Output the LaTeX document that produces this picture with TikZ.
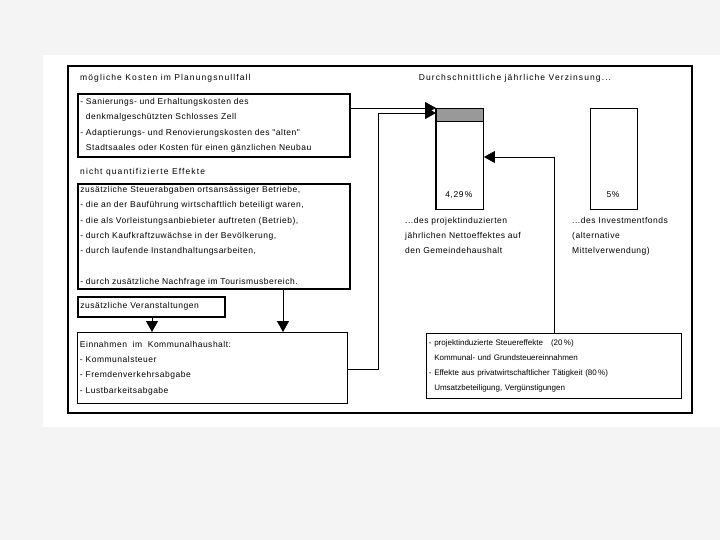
\documentclass[tikz,border=0pt]{standalone}
\usepackage{fontspec}
\setmainfont{Liberation Sans}
\newfontfamily\boxfont[LetterSpace=6]{Liberation Sans}
\newfontfamily\titlefont[LetterSpace=13]{Liberation Sans}
\usetikzlibrary{arrows.meta,positioning}
\definecolor{pagegray}{HTML}{F4F4F4}
\definecolor{bargray}{HTML}{999999}

\begin{document}
\begin{tikzpicture}[x=1pt,y=-1pt,
	every node/.style={font=\boxfont\fontsize{8.5}{15.3}\selectfont},
	box/.style={draw,line width=1.6pt,anchor=north west,align=left,inner xsep=2.5pt,inner ysep=0pt},
	thinbox/.style={box,line width=0.9pt},
	caption/.style={anchor=west,inner sep=0pt},
	heading/.style={caption,font=\titlefont\fontsize{8.5}{10}\selectfont},
	bar/.style={draw,line width=0.9pt,anchor=north west,inner sep=0pt,minimum width=47pt,minimum height=101pt},
	arr/.style={line width=0.9pt,-{Triangle[length=11pt,width=12pt]}}]
	% page and frame
	\fill[pagegray] (0,0) rectangle (720,540);
	\fill[white] (43,55) rectangle (720,427);
	\draw[line width=1.5pt] (68,66) rectangle (692,413);
	% left column
	\node[heading] (kostentitel) at (80,78) {mögliche Kosten im Planungsnullfall};
	\node[box,text width=267pt,minimum height=63pt] (kosten) at (77,93)
		{- Sanierungs- und Erhaltungskosten des\\
		\phantom{- }denkmalgeschützten Schlosses Zell\\
		- Adaptierungs- und Renovierungskosten des "alten"\\
		\phantom{- }Stadtsaales oder Kosten für einen gänzlichen Neubau};
	\node[heading] (effekttitel) at (80,172) {nicht quantifizierte Effekte};
	\node[box,text width=267pt,minimum height=105pt] (effekte) at (77,183)
		{zusätzliche Steuerabgaben ortsansässiger Betriebe,\\
		- die an der Bauführung wirtschaftlich beteiligt waren,\\
		- die als Vorleistungsanbiebieter auftreten (Betrieb),\\
		- durch Kaufkraftzuwächse in der Bevölkerung,\\
		- durch laufende Instandhaltungsarbeiten,\\[15.3pt]
		- durch zusätzliche Nachfrage im Tourismusbereich.};
	\node[box,text width=142pt,minimum height=20pt] (veranst) at (77,296) {zusätzliche Veranstaltungen};
	\node[thinbox,text width=265pt,minimum height=71pt] (einnahmen) at (77,332)
		{Einnahmen\ \ im\ \ Kommunalhaushalt:\\
		- Kommunalsteuer\\
		- Fremdenverkehrsabgabe\\
		- Lustbarkeitsabgabe};
	% right column
	\node[heading,anchor=center] (zinstitel) at (515,78) {Durchschnittliche jährliche Verzinsung...};
	\node[bar] (bar1) at (436,108) {};
	\fill[bargray,draw=black,line width=0.9pt] (bar1.north west) rectangle ([yshift=-13pt]bar1.north east);
	\draw[line width=1.8pt] (bar1.north west) -- (bar1.south west);
	\node[inner sep=0pt] (wert1) at (459,195) {4,29\,\%};
	\node[bar] (bar2) at (590,108) {};
	\node[inner sep=0pt] (wert2) at (613,195) {5\%};
	\node[caption,anchor=north west,align=left] (netto) at (405,217)
		{...des projektinduzierten\\jährlichen Nettoeffektes auf\\den Gemeindehaushalt};
	\node[caption,anchor=north west,align=left] (fonds) at (572,217)
		{...des Investmentfonds\\(alternative\\Mittelverwendung)};
	\node[thinbox,text width=250pt,minimum height=65pt,font=\rmfamily\fontsize{8}{15.3}\selectfont] (steuer) at (426,333)
		{- projektinduzierte Steuereffekte\ \ \ (20\,\%)\\
		\phantom{- }Kommunal- und Grundsteuereinnahmen\\
		- Effekte aus privatwirtschaftlicher Tätigkeit (80\,\%)\\
		\phantom{- }Umsatzbeteiligung, Vergünstigungen};
	% connectors
	\draw[arr] (kosten.east |- 0,108) -- (bar1.west |- 0,108);
	\draw[arr] (einnahmen.east |- 0,369) -| (378,113) -- (bar1.west |- 0,113);
	\draw[arr] (steuer.north -| 554,0) |- (bar1.east |- 0,157);
	\draw[arr] (veranst.south -| 152,0) -- (einnahmen.north -| 152,0);
	\draw[arr] (effekte.south -| 283,0) -- (einnahmen.north -| 283,0);
\end{tikzpicture}
\end{document}
